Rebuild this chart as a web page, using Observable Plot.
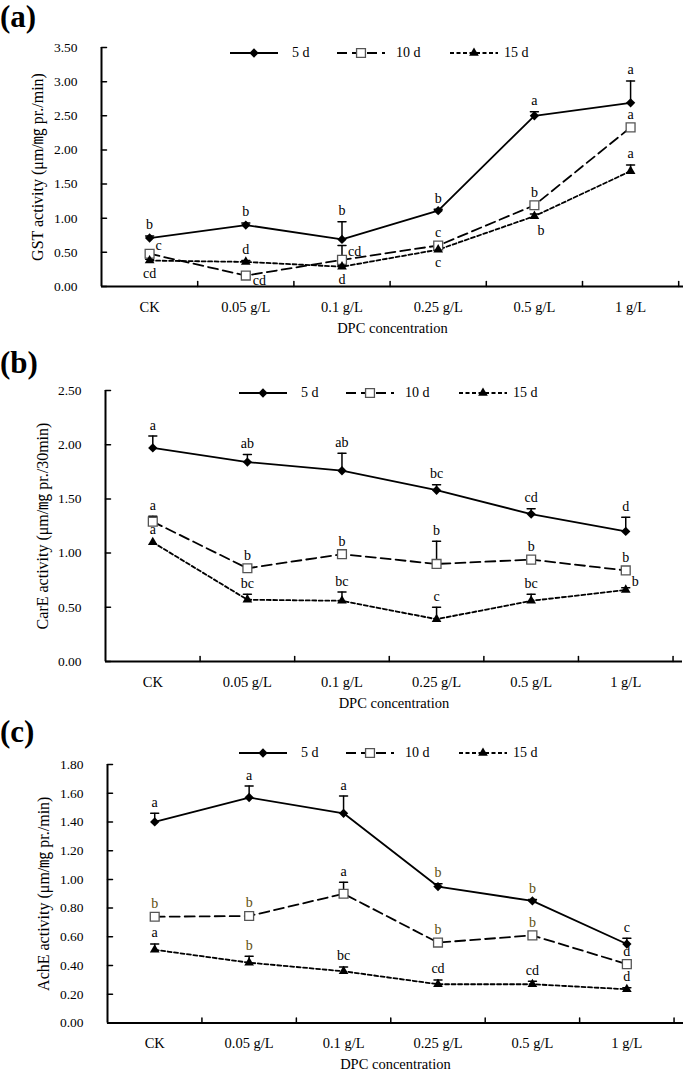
<!DOCTYPE html>
<html><head><meta charset="utf-8">
<script src="https://cdn.jsdelivr.net/npm/d3@7"></script>
<script src="https://cdn.jsdelivr.net/npm/@observablehq/plot@0.6"></script>
<style>
body{margin:0;background:#fff;}
#root{position:relative;width:685px;height:1075px;overflow:hidden;font-family:'Liberation Serif','Noto Sans CJK SC',serif;color:#000;}
.tag{position:absolute;left:0;font-weight:bold;font-size:31px;line-height:1;}
.panel{position:absolute;left:0;}
</style></head><body><div id="root"></div>
<script>
// ---------- data ----------
const categories = ["CK", "0.05 g/L", "0.1 g/L", "0.25 g/L", "0.5 g/L", "1 g/L"];
const seriesLabels = ["5 d", "10 d", "15 d"];
const xTitle = "DPC concentration";

// (a) GST activity
const gstTicks = [0, 0.5, 1, 1.5, 2, 2.5, 3, 3.5];
const gst5d = [0.71, 0.90, 0.69, 1.11, 2.50, 2.69];
const gst5dErr = [0.03, 0.03, 0.26, 0.02, 0.06, 0.32];
const gst10d = [0.48, 0.16, 0.39, 0.60, 1.19, 2.33];
const gst10dErr = [0, 0, 0.21, 0, 0, 0];
const gst15d = [0.38, 0.36, 0.29, 0.54, 1.03, 1.69];
const gst15dErr = [0.02, 0.02, 0.02, 0.03, 0.03, 0.09];
const gst5dLetters = ["b", "b", "b", "b", "a", "a"];
const gst10dLetters = ["c", "cd", "cd", "c", "b", "a"];
const gst15dLetters = ["cd", "d", "d", "c", "b", "a"];

// (b) CarE activity
const careTicks = [0, 0.5, 1, 1.5, 2, 2.5];
const care5d = [1.97, 1.84, 1.76, 1.58, 1.36, 1.20];
const care5dErr = [0.11, 0.07, 0.16, 0.05, 0.05, 0.13];
const care10d = [1.29, 0.86, 0.99, 0.90, 0.94, 0.84];
const care10dErr = [0.05, 0, 0, 0.21, 0, 0];
const care15d = [1.10, 0.57, 0.56, 0.39, 0.56, 0.66];
const care15dErr = [0, 0.05, 0.08, 0.11, 0.06, 0.02];
const care5dLetters = ["a", "ab", "ab", "bc", "cd", "d"];
const care10dLetters = ["a", "b", "b", "b", "b", "b"];
const care15dLetters = ["a", "bc", "bc", "c", "bc", "b"];

// (c) AchE activity
const acheTicks = [0, 0.2, 0.4, 0.6, 0.8, 1.0, 1.2, 1.4, 1.6, 1.8];
const ache5d = [1.40, 1.57, 1.46, 0.95, 0.85, 0.55];
const ache5dErr = [0.06, 0.08, 0.12, 0.02, 0.01, 0.04];
const ache10d = [0.74, 0.745, 0.90, 0.56, 0.61, 0.41];
const ache10dErr = [0, 0, 0.08, 0, 0, 0];
const ache15d = [0.51, 0.42, 0.36, 0.27, 0.27, 0.235];
const ache15dErr = [0.04, 0.045, 0.03, 0.03, 0.02, 0.01];
const ache5dLetters = ["a", "a", "a", "b", "b", "c"];
const ache10dLetters = ["b", "b", "a", "b", "b", "d"];
const ache15dLetters = ["a", "b", "bc", "cd", "cd", "d"];

// ---------- layout / style ----------
const FONT = "'Liberation Serif','Noto Sans CJK SC',serif";
const seriesStyle = [
  {dash: null, symbol: "diamond2", r: 4.2, fill: "#000", stroke: "none"},
  {dash: "10,5", symbol: "square", r: 5, fill: "#fff", stroke: "#555"},
  {dash: "4,2.5", symbol: "triangle", r: 3.6, fill: "#000", stroke: "none"}
];
// letter placement codes: t = above, b = below, r = right/up, rl = right/low, br = below/right
const place = {
  t: {dx: 0, dy: -11, anchor: "middle"},
  t0: {dx: 0, dy: -13, anchor: "middle"},
  b: {dx: 0, dy: 13, anchor: "middle"},
  r: {dx: 6, dy: -8, anchor: "start"},
  rl: {dx: 7, dy: 5, anchor: "start"},
  br: {dx: 3, dy: 14, anchor: "start"}
};
const panels = [
  {tag: "(a)", tagTop: 1, top: 0, height: 340, mt: 47, mb: 54, ml: 101, mr: 2, xMax: 6.05,
   yTicks: gstTicks, ylabel: "GST activity (μm/㎎ pr./min)", ylabelDx: -64,
   values: [gst5d, gst10d, gst15d], errs: [gst5dErr, gst10dErr, gst15dErr],
   letters: [gst5dLetters, gst10dLetters, gst15dLetters],
   places: [["t","t","t","t","t","t"], ["r","rl","r","t","t","t"], ["b","t","b","b","br","t"]],
   legendTop: 52.5, legendLeft: 230, bColor: "#000"},
  {tag: "(b)", tagTop: 347, top: 340, height: 375, mt: 50, mb: 54, ml: 105, mr: 3, xMax: 6.1,
   yTicks: careTicks, ylabel: "CarE activity (μm/㎎ pr./30min)", ylabelDx: -63,
   values: [care5d, care10d, care15d], errs: [care5dErr, care10dErr, care15dErr],
   letters: [care5dLetters, care10dLetters, care15dLetters],
   places: [["t","t","t","t","t","t"], ["t","t","t","t","t","t"], ["t","t","t","t","t","r"]],
   legendTop: 393, legendLeft: 239, bColor: "#000"},
  {tag: "(c)", tagTop: 716, top: 715, height: 360, mt: 49, mb: 52.5, ml: 107, mr: 2, xMax: 6.1,
   yTicks: acheTicks, ylabel: "AchE activity (μm/㎎ pr./min)", ylabelDx: -64,
   values: [ache5d, ache10d, ache15d], errs: [ache5dErr, ache10dErr, ache15dErr],
   letters: [ache5dLetters, ache10dLetters, ache15dLetters],
   places: [["t","t","t","t","t","t"], ["t","t","t","t","t","t"], ["t","t","t","t","t","t"]],
   legendTop: 753, legendLeft: 239, bColor: "#5e500f"}
];

const tickShape = {draw(context, l) { context.moveTo(0, 0); context.lineTo(0, -l); }};
const root = d3.select("#root");

function drawPanel(p) {
  const xs = categories.map((_, i) => i + 0.5);
  const bounds = categories.map((_, i) => i + 1);
  const rows = [];
  p.values.forEach((vals, s) => vals.forEach((v, i) => {
    const e = p.errs[s][i];
    let code = p.places[s][i];
    if (code === "t" && e === 0) code = "t0";
    rows.push({s, x: xs[i], v, e, top: v + e, letter: p.letters[s][i], code});
  }));
  const marks = [];
  // error bars
  const errRows = rows.filter(d => d.e > 0);
  marks.push(Plot.ruleX(errRows, {x: "x", y1: "v", y2: "top", stroke: "#000", strokeWidth: 1.5}));
  marks.push(Plot.vector(errRows, {x: "x", y: "top", length: 8, rotate: 90, anchor: "middle", shape: tickShape, stroke: "#000", strokeWidth: 1.5}));
  // lines
  seriesStyle.forEach((st, s) => {
    marks.push(Plot.line(rows.filter(d => d.s === s), {x: "x", y: "v", stroke: "#000", strokeWidth: 1.8, strokeDasharray: st.dash}));
  });
  // markers
  seriesStyle.forEach((st, s) => {
    marks.push(Plot.dot(rows.filter(d => d.s === s), {x: "x", y: "v", symbol: st.symbol, r: st.r, fill: st.fill, stroke: st.stroke, strokeWidth: 1.3}));
  });
  // letters
  Object.entries(place).forEach(([code, pl]) => {
    const sub = rows.filter(d => d.code === code);
    if (!sub.length) return;
    marks.push(Plot.text(sub, {x: "x", y: d => (code === "t" || code === "t0") ? d.top : d.v, text: "letter",
      dx: pl.dx, dy: pl.dy, textAnchor: pl.anchor, fontSize: 14,
      fill: d => d.letter === "b" ? p.bColor : "#000"}));
  });
  // axes
  marks.push(Plot.ruleX([0], {x: d => d, stroke: "#000", strokeWidth: 2}));
  marks.push(Plot.ruleY([0], {y: d => d, stroke: "#000", strokeWidth: 2}));
  marks.push(Plot.vector(p.yTicks, {x: () => 0, y: d => d, length: 5, rotate: 90, anchor: "start", shape: tickShape, stroke: "#000", strokeWidth: 1.5}));
  marks.push(Plot.vector(bounds, {x: d => d, y: () => 0, length: 5, rotate: 0, anchor: "start", shape: tickShape, stroke: "#000", strokeWidth: 1.5}));
  marks.push(Plot.axisY({ticks: p.yTicks, tickSize: 0, tickPadding: 24, tickFormat: d => d.toFixed(2), fontSize: 13.5, label: null}));
  marks.push(Plot.text([p.ylabel], {frameAnchor: "left", text: d => d, rotate: -90, dx: p.ylabelDx, fontSize: 16, textAnchor: "middle"}));
  marks.push(Plot.axisX({ticks: xs, tickSize: 0, tickPadding: 15, tickFormat: d => categories[Math.round(d - 0.5)], fontSize: 14.5,
    label: xTitle, labelAnchor: "center", labelArrow: "none", labelOffset: 46}));

  const chart = Plot.plot({
    width: 685, height: p.height,
    marginTop: p.mt, marginBottom: p.mb, marginLeft: p.ml, marginRight: p.mr,
    x: {domain: [0, p.xMax]},
    y: {domain: [0, p.yTicks[p.yTicks.length - 1]]},
    style: {fontFamily: FONT, fontSize: "14px", color: "#000", background: "transparent", overflow: "visible"},
    marks
  });
  const wrap = root.append("div").attr("class", "panel").style("top", p.top + "px");
  wrap.node().appendChild(chart);
  root.append("div").attr("class", "tag").style("top", p.tagTop + "px").text(p.tag);
  drawLegend(p.legendTop, p.legendLeft);
}

function drawLegend(cy, left) {
  const items = [{off: 0, txt: 62}, {off: 107, txt: 166}, {off: 220, txt: 274}];
  const svg = root.append("svg").attr("width", 310).attr("height", 24)
    .style("position", "absolute").style("left", left + "px").style("top", (cy - 12) + "px").style("overflow", "visible");
  const types = {diamond2: d3.symbolDiamond2, square: d3.symbolSquare, triangle: d3.symbolTriangle};
  items.forEach((it, s) => {
    const st = seriesStyle[s];
    svg.append("line").attr("x1", it.off).attr("x2", it.off + 48).attr("y1", 12).attr("y2", 12)
      .attr("stroke", "#000").attr("stroke-width", 1.8).attr("stroke-dasharray", st.dash);
    svg.append("path").attr("d", d3.symbol(types[st.symbol], st.r * st.r * Math.PI)())
      .attr("transform", `translate(${it.off + 24},12)`)
      .attr("fill", st.fill).attr("stroke", st.stroke).attr("stroke-width", 1.3);
    svg.append("text").attr("x", it.txt).attr("y", 12).attr("dy", "0.32em")
      .attr("font-family", FONT).attr("font-size", 14).text(seriesLabels[s]);
  });
}

panels.forEach(drawPanel);
</script>
</body></html>
